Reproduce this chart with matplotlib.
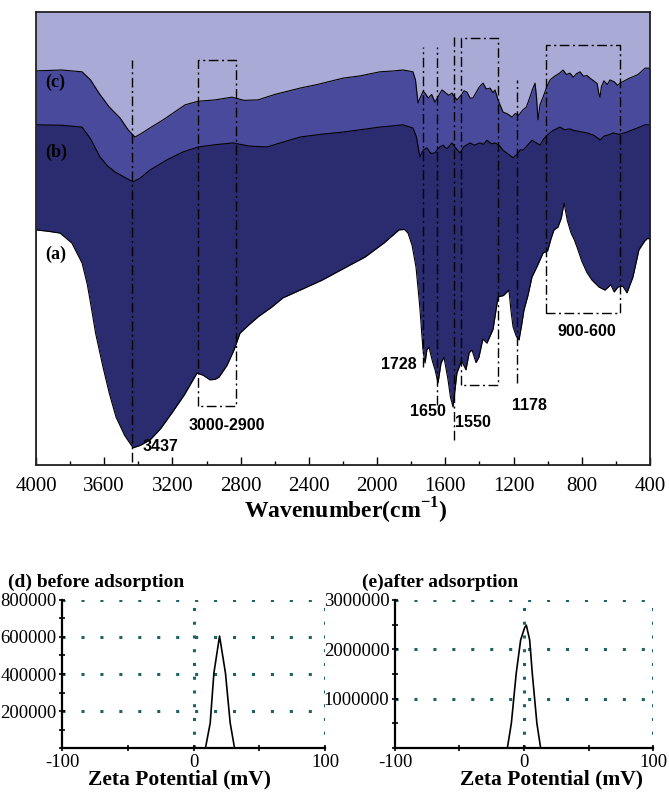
import matplotlib
matplotlib.use('Agg')
import matplotlib.pyplot as plt
from matplotlib.ticker import MultipleLocator

plt.rcParams['font.family'] = ['Liberation Serif', 'DejaVu Sans']
plt.rcParams['mathtext.fontset'] = 'custom'
plt.rcParams['mathtext.rm'] = 'Liberation Serif:bold'
plt.rcParams['mathtext.bf'] = 'Liberation Serif:bold'

# FTIR spectra, relative transmittance (a.u.)
wn_c = [4000, 3850, 3730, 3680, 3631, 3570, 3507, 3460, 3420, 3390, 3332, 3250, 3126, 3050,
        2950, 2851, 2780, 2698, 2600, 2452, 2350, 2200, 2100, 1983, 1900, 1848, 1790, 1775,
        1760, 1745, 1730, 1719, 1700, 1680, 1661, 1640, 1620, 1602, 1580, 1561, 1545, 1532,
        1510, 1490, 1473, 1455, 1438, 1420, 1400, 1379, 1360, 1338, 1320, 1309, 1290, 1262,
        1235, 1209, 1190, 1170, 1145, 1125, 1104, 1090, 1074, 1065, 1057, 1045, 1027, 1005,
        986, 960, 930, 910, 890, 869, 850, 830, 810, 790, 770, 752, 730, 710, 700, 693, 685,
        670, 650, 635, 610, 590, 576, 550, 520, 500, 470, 429, 400]
tr_c = [87.0, 87.2, 86.8, 85.0, 82.1, 79.0, 76.6, 74.0, 72.4, 73.0, 74.4, 76.3, 79.5, 80.3,
        80.6, 81.2, 80.5, 80.6, 81.8, 83.2, 84.0, 85.4, 85.9, 86.8, 87.0, 87.2, 86.8, 85.0,
        79.9, 81.3, 82.5, 82.1, 81.0, 81.8, 80.1, 81.5, 82.8, 82.3, 81.6, 82.1, 81.2, 80.6,
        81.5, 82.6, 82.3, 81.0, 81.0, 82.2, 83.5, 84.3, 83.0, 83.2, 82.2, 82.8, 80.5, 77.9,
        77.5, 76.8, 77.6, 77.2, 78.4, 79.0, 81.2, 82.8, 84.3, 81.0, 76.2, 79.5, 81.2, 83.5,
        85.0, 85.8, 86.5, 87.2, 86.2, 86.5, 85.6, 86.4, 86.8, 85.8, 86.0, 85.4, 84.8, 84.2,
        82.0, 81.2, 83.5, 84.8, 84.0, 85.0, 84.6, 83.8, 84.3, 84.8, 85.4, 85.7, 86.2, 87.6, 87.6]

wn_b = [4000, 3850, 3730, 3680, 3625, 3580, 3537, 3480, 3431, 3390, 3332, 3230, 3138, 3050,
        2950, 2845, 2750, 2646, 2550, 2452, 2330, 2200, 2100, 1983, 1900, 1848, 1790, 1770,
        1749, 1730, 1708, 1685, 1661, 1640, 1614, 1590, 1561, 1540, 1514, 1490, 1455, 1430,
        1397, 1375, 1356, 1330, 1309, 1285, 1262, 1230, 1203, 1180, 1160, 1145, 1120, 1092,
        1070, 1045, 1025, 1004, 970, 928, 900, 870, 851, 810, 769, 730, 700, 693, 670, 640,
        617, 580, 535, 480, 429, 400]
tr_b = [75.1, 75.0, 74.6, 72.0, 68.0, 66.0, 64.7, 63.5, 62.5, 63.3, 65.1, 67.4, 69.1, 70.2,
        70.7, 71.1, 70.4, 70.2, 71.3, 72.4, 73.0, 73.5, 74.0, 74.6, 74.9, 75.1, 74.4, 72.5,
        68.0, 69.5, 70.0, 68.8, 68.9, 70.0, 70.6, 69.8, 71.1, 70.0, 68.9, 70.3, 71.1, 70.6,
        71.1, 70.8, 71.7, 70.9, 71.1, 70.6, 69.5, 68.6, 67.8, 68.6, 69.6, 69.5, 70.5, 71.7,
        71.2, 70.6, 71.9, 72.8, 73.8, 74.6, 74.0, 74.2, 73.9, 73.6, 73.3, 72.8, 72.0, 71.7,
        72.6, 72.9, 73.3, 73.0, 73.5, 74.3, 75.1, 75.1]

wn_a = [4000, 3930, 3859, 3790, 3730, 3700, 3683, 3650, 3607, 3570, 3531, 3480, 3431, 3390,
        3332, 3270, 3203, 3130, 3056, 3020, 2980, 2950, 2927, 2880, 2839, 2804, 2750, 2698,
        2620, 2552, 2440, 2323, 2200, 2071, 1960, 1872, 1840, 1819, 1795, 1772, 1750, 1731,
        1719, 1708, 1696, 1675, 1660, 1643, 1625, 1608, 1585, 1570, 1555, 1545, 1532, 1505,
        1479, 1460, 1444, 1420, 1403, 1380, 1356, 1320, 1291, 1260, 1227, 1215, 1203, 1185,
        1168, 1150, 1139, 1115, 1092, 1060, 1027, 1000, 980, 963, 940, 920, 904, 885, 863,
        845, 828, 800, 770, 740, 700, 664, 630, 610, 588, 560, 535, 500, 465, 430, 412, 400]
tr_a = [51.9, 51.6, 51.2, 49.0, 44.6, 40.0, 36.4, 29.0, 21.6, 15.8, 10.6, 6.5, 3.8, 4.3,
        5.5, 8.0, 11.5, 15.5, 20.3, 19.8, 18.8, 18.9, 19.4, 22.0, 25.4, 29.1, 31.0, 32.7,
        34.8, 36.9, 38.8, 40.8, 43.3, 45.9, 49.0, 51.9, 52.0, 51.2, 48.5, 43.7, 35.0, 25.4,
        22.5, 25.5, 26.0, 22.8, 21.0, 18.1, 22.5, 23.8, 19.0, 15.0, 12.8, 16.0, 20.3, 23.0,
        21.0, 24.8, 25.4, 22.6, 23.8, 27.8, 26.9, 30.0, 37.1, 37.4, 38.6, 34.0, 30.5, 28.5,
        27.6, 31.5, 34.2, 37.5, 41.5, 44.0, 46.8, 47.3, 50.0, 51.9, 52.5, 54.5, 57.8, 54.0,
        51.2, 49.8, 48.1, 45.0, 42.5, 40.8, 39.3, 38.6, 39.8, 38.2, 39.3, 39.5, 38.0, 41.5,
        47.5, 49.5, 50.1, 49.7]

# marked bands
band_lines = [3437, 1728, 1650, 1550, 1178]
band_line_top = [89.4, 92.3, 92.3, 94.5, 85.0]
band_line_bot = [0.7, 21.6, 13.2, 5.5, 18.1]
band_boxes = [(3050, 2830), (1510, 1290), (1010, 575)]
band_box_top = [89.4, 94.3, 92.7]
band_box_bot = [13.0, 17.7, 33.6]

# zeta potential distributions
zeta_d = [-100, 9.1, 12.7, 15.5, 19.8, 24.3, 27.9, 31.2, 100]
count_d = [0, 0, 135000, 405000, 605000, 405000, 135000, 0, 0]
zeta_e = [-100, -12.9, -9.8, -6.0, -2.6, 0.5, 1.8, 4.4, 6.4, 10.0, 12.9, 100]
count_e = [0, 0, 500000, 1520000, 2190000, 2440000, 2490000, 2190000, 1520000, 500000, 0, 0]

light = '#aaaad6'
medium = '#4a4a9c'
dark = '#2b2b70'
dotc = '#1f6262'

fig = plt.figure(figsize=(6.69, 7.95), dpi=100)

ax = fig.add_axes([0.0538, 0.4151, 0.9178, 0.5698])
ax.set_facecolor(light)
ax.fill_between(wn_c, tr_c, 0, color=medium, lw=0)
ax.fill_between(wn_b, tr_b, 0, color=dark, lw=0)
ax.fill_between(wn_a, tr_a, 0, color='white', lw=0)
for w, t in [(wn_c, tr_c), (wn_b, tr_b), (wn_a, tr_a)]:
    ax.plot(w, t, color='black', lw=0.8)

dd = (0, (7, 2.5, 1.5, 2.5))
for w, t, b in zip(band_lines, band_line_top, band_line_bot):
    ax.plot([w, w], [b, t], color='black', lw=1.0, linestyle=dd)
for (w1, w2), t, b in zip(band_boxes, band_box_top, band_box_bot):
    ax.plot([w1, w1, w2, w2, w1], [b, t, t, b, b], color='black', lw=1.0, linestyle=dd)

ax.set_xlim(4000, 400)
ax.set_ylim(0, 100)
ax.set_yticks([])
ax.xaxis.set_major_locator(MultipleLocator(400))
ax.xaxis.set_minor_locator(MultipleLocator(200))
ax.tick_params(axis='x', which='major', direction='in', length=6, width=1, pad=9, labelsize=15)
ax.tick_params(axis='x', which='minor', direction='in', length=3, width=1)
for s in ax.spines.values():
    s.set_color('#222222')
    s.set_linewidth(1.3)

lab = dict(fontsize=13, fontweight='bold', va='center', ha='left')
ax.text(3945, 84.5, '(c)', **lab)
ax.text(3945, 69.1, '(b)', **lab)
ax.text(3945, 46.4, '(a)', **lab)

ann = dict(fontsize=11.5, fontweight='bold', family='Liberation Sans', va='center')
ax.text(3378, 4.0, '3437', ha='left', **ann)
ax.text(2880, 8.8, '3000-2900', ha='center', **ann)
ax.text(1766, 22.1, '1728', ha='right', **ann)
ax.text(1702, 11.7, '1650', ha='center', **ann)
ax.text(1438, 9.3, '1550', ha='center', **ann)
ax.text(1104, 13.2, '1178', ha='center', **ann)
ax.text(769, 29.4, '900-600', ha='center', **ann)

fig.text(0.516, 0.358, r'Wavenumber(cm$^{\mathbf{-1}}$)', fontsize=17, fontweight='bold',
         ha='center', va='center')


def zeta_panel(rect, x, y, ymax, step, minor, title, tx, xlab_x):
    a = fig.add_axes(rect)
    a.plot(x, y, color='black', lw=1.2)
    a.set_xlim(-100, 100)
    a.set_ylim(0, ymax)
    for v in range(step, ymax + 1, step):
        a.axhline(v, color=dotc, lw=2.2, linestyle=(0, (1, 5.2)), zorder=0)
    for v in (0, 100):
        a.axvline(v, color=dotc, lw=2.2, linestyle=(0, (1, 3.5)), zorder=0)
    a.spines['top'].set_visible(False)
    a.spines['right'].set_visible(False)
    a.spines['left'].set_linewidth(1.6)
    a.spines['bottom'].set_linewidth(1.6)
    a.set_xticks([-100, -50, 0, 50, 100])
    a.set_xticklabels(['-100', '', '0', '', '100'])
    a.set_yticks(list(range(step, ymax + 1, step)))
    a.set_yticklabels([str(v) for v in range(step, ymax + 1, step)])
    a.yaxis.set_minor_locator(MultipleLocator(minor))
    a.tick_params(which='both', direction='inout', length=5, width=1.2, labelsize=13.5, pad=1.5)
    a.tick_params(axis='x', pad=2)
    fig.text(tx, 0.268, title, fontsize=14, fontweight='bold', ha='left', va='center')
    a.text(xlab_x, -0.215, 'Zeta Potential (mV)', transform=a.transAxes, fontsize=15.5,
           fontweight='bold', ha='center', va='center')
    return a


zeta_panel([0.0927, 0.0591, 0.3931, 0.1862], zeta_d, count_d, 800000, 200000, 100000,
           '(d) before adsorption', 0.012, 0.445)
zeta_panel([0.5904, 0.0591, 0.3857, 0.1862], zeta_e, count_e, 3000000, 1000000, 500000,
           '(e)after adsorption', 0.541, 0.605)

fig.savefig('out.png', dpi=100)
